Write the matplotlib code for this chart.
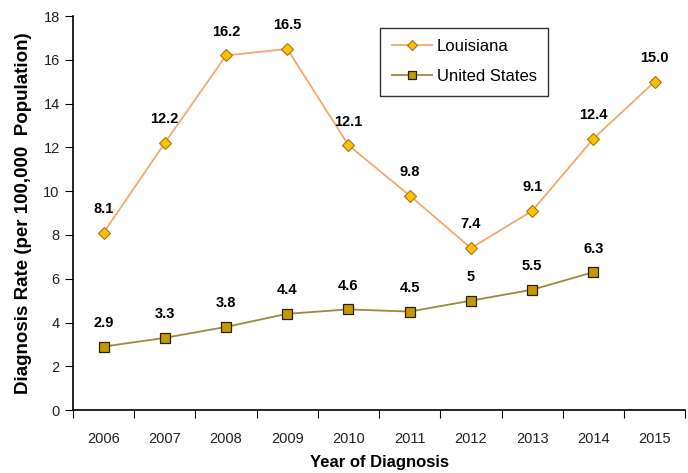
import matplotlib.pyplot as plt
import numpy as np

years = ["2006", "2007", "2008", "2009", "2010", "2011", "2012", "2013", "2014", "2015"]
louisiana = [8.1, 12.2, 16.2, 16.5, 12.1, 9.8, 7.4, 9.1, 12.4, 15.0]
louisiana_labels = ["8.1", "12.2", "16.2", "16.5", "12.1", "9.8", "7.4", "9.1", "12.4", "15.0"]
us = [2.9, 3.3, 3.8, 4.4, 4.6, 4.5, 5.0, 5.5, 6.3]
us_labels = ["2.9", "3.3", "3.8", "4.4", "4.6", "4.5", "5", "5.5", "6.3"]

plt.rcParams['font.family'] = ['Liberation Sans Narrow', 'Liberation Sans', 'DejaVu Sans']

fig = plt.figure(figsize=(6.88, 4.73), dpi=100)
ax = fig.add_axes([0.106, 0.133, 0.89, 0.833])

x = np.arange(len(years))
ax.plot(x, louisiana, color='#F7A66E', lw=1.3, marker='D', ms=6,
        mfc='#FFC000', mec='#A07818', mew=0.8, label='Louisiana', zorder=3)
ax.plot(x[:len(us)], us, color='#9C8A3C', lw=1.3, marker='s', ms=6.5,
        mfc='#C49A00', mec='#2A2000', mew=0.9, label='United States', zorder=3)

# value labels sit about 24 px above each marker
for xi, v, t in zip(x, louisiana, louisiana_labels):
    ax.annotate(t, (xi, v), xytext=(0, 17), textcoords='offset points',
                ha='center', va='center', fontsize=10.5, fontweight='bold')
for xi, v, t in zip(x, us, us_labels):
    ax.annotate(t, (xi, v), xytext=(0, 17), textcoords='offset points',
                ha='center', va='center', fontsize=10.5, fontweight='bold')

ax.set_xlim(-0.5, 9.5)
ax.set_ylim(0, 18)
ax.set_yticks(range(0, 19, 2))
ax.set_xticks(np.arange(-0.5, 10, 1))
ax.set_xticklabels([])
ax.set_xticks(x, minor=True)
ax.set_xticklabels(years, minor=True)
ax.tick_params(axis='x', which='minor', length=0, pad=16, labelsize=10.5, labelcolor='#222222')
ax.tick_params(axis='x', which='major', length=6, direction='out')
ax.tick_params(axis='y', length=6, direction='out', labelsize=10.5, labelcolor='#222222')

for s in ['top', 'right']:
    ax.spines[s].set_visible(False)
ax.spines['left'].set_linewidth(1.2)
ax.spines['bottom'].set_linewidth(1.2)

ax.set_xlabel('Year of Diagnosis', fontsize=12, fontweight='bold', labelpad=6)
ax.set_ylabel('Diagnosis Rate (per 100,000  Population)', fontsize=13.5,
              fontweight='bold', labelpad=8)

leg = ax.legend(loc='upper left', bbox_to_anchor=(0.488, 0.992), fontsize=12,
                frameon=True, fancybox=False, edgecolor='black', handlelength=2.4,
                borderpad=0.7, labelspacing=0.9, handletextpad=0.3, markerscale=0.85)
leg.get_frame().set_linewidth(1.0)

fig.savefig('out.png', dpi=100)
